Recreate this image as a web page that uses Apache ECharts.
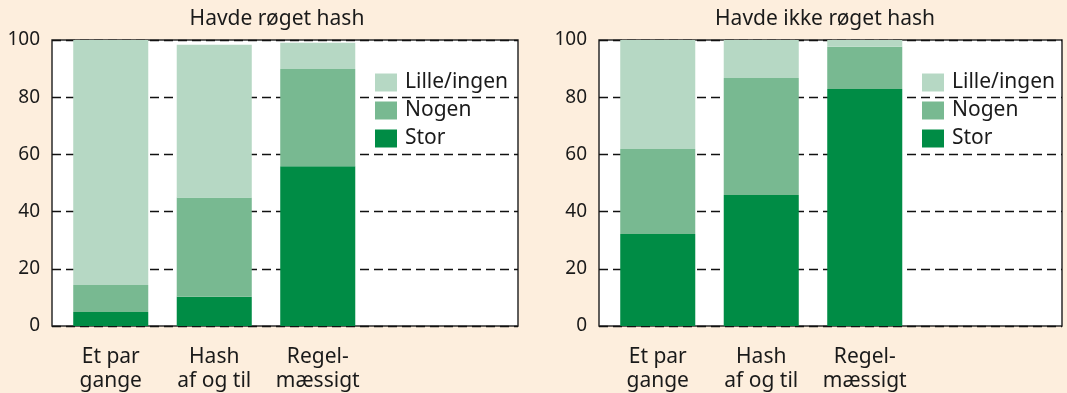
<!DOCTYPE html>
<html>
<head>
<meta charset="utf-8">
<script src="https://cdn.jsdelivr.net/npm/echarts@6/dist/echarts.min.js"></script>
<style>
  html, body { margin: 0; padding: 0; background: #fdeedd; }
  #chart { width: 1067px; height: 393px; }
</style>
</head>
<body>
<div id="chart"></div>
<script>
// Categories (how often hash was smoked) and the three response levels
const categories = ['Et par\ngange', 'Hash\naf og til', 'Regel-\nmæssigt', ''];
const levels = ['Stor', 'Nogen', 'Lille/ingen'];
const legendOrder = ['Lille/ingen', 'Nogen', 'Stor'];
const panelTitles = ['Havde røget hash', 'Havde ikke røget hash'];
const yTicks = [0, 20, 40, 60, 80, 100];

// Panel 1: Havde røget hash (percent)
const smokedStor  = [4.9, 10.2, 55.9];
const smokedNogen = [9.4, 34.7, 34.0];
const smokedLille = [85.7, 53.4, 9.1];

// Panel 2: Havde ikke røget hash (percent)
const notSmokedStor  = [32.2, 45.8, 82.9];
const notSmokedNogen = [29.7, 40.9, 14.7];
const notSmokedLille = [38.1, 13.3, 2.4];

const colors = { 'Stor': '#008c45', 'Nogen': '#78b991', 'Lille/ingen': '#b6d8c4' };
const FONT = '"Noto Sans", "Liberation Sans", sans-serif';
const TEXT = '#1a1a1a';

// Each panel: a framed plot box (with the dashed value grid) and, inside it,
// a band of four category slots that carries the stacked bars.
const panels = [
  { title: panelTitles[0], values: [smokedStor, smokedNogen, smokedLille],
    frame: { left: 52, top: 40, width: 466, height: 286 },
    bars:  { left: 59, top: 40, width: 414, height: 286 },
    titleX: 277, legendLeft: 375 },
  { title: panelTitles[1], values: [notSmokedStor, notSmokedNogen, notSmokedLille],
    frame: { left: 599, top: 40, width: 463, height: 286 },
    bars:  { left: 606, top: 40, width: 414, height: 286 },
    titleX: 825, legendLeft: 922 }
];

const yMin = yTicks[0], yMax = yTicks[yTicks.length - 1], yStep = yTicks[1] - yTicks[0];

const grids = [], xAxes = [], yAxes = [];
// frame grids: 0, 1
panels.forEach((p, i) => {
  grids.push(Object.assign({
    show: true, backgroundColor: '#ffffff', borderColor: '#2b2b2b', borderWidth: 1.5,
    containLabel: false, outerBoundsMode: 'none'
  }, p.frame));
  xAxes.push({ type: 'value', gridIndex: i, min: 0, max: 1, show: false });
  yAxes.push({
    type: 'value', gridIndex: i, min: yMin, max: yMax, interval: yStep,
    axisLine: { show: false }, axisTick: { show: false },
    axisLabel: { fontFamily: FONT, fontSize: 19, color: TEXT, margin: 12,
      verticalAlign: 'middle', padding: [0, 0, 6, 0] },
    splitLine: { show: true, lineStyle: { color: '#111', width: 1.3, type: [9, 5] } }
  });
});
// bar grids: 2, 3
panels.forEach((p, i) => {
  grids.push(Object.assign({ show: false, containLabel: false, outerBoundsMode: 'none' }, p.bars));
  xAxes.push({
    type: 'category', gridIndex: 2 + i, data: categories,
    axisLine: { show: false }, axisTick: { show: false }, splitLine: { show: false },
    axisLabel: { fontFamily: FONT, fontSize: 21, color: TEXT, lineHeight: 24, margin: 19, interval: 0 }
  });
  yAxes.push({
    type: 'value', gridIndex: 2 + i, min: yMin, max: yMax, interval: yStep,
    axisLine: { show: false }, axisTick: { show: false },
    axisLabel: { show: false }, splitLine: { show: false }
  });
});

const series = [];
panels.forEach((p, i) => {
  levels.forEach((lvl, j) => {
    series.push({
      type: 'bar', name: lvl, stack: 'panel' + i,
      xAxisIndex: 2 + i, yAxisIndex: 2 + i,
      barWidth: '72.5%',
      itemStyle: { color: colors[lvl] },
      data: p.values[j]
    });
  });
});

const option = {
  backgroundColor: '#fdeedd',
  animation: false,
  textStyle: { fontFamily: FONT, color: TEXT },
  grid: grids,
  xAxis: xAxes,
  yAxis: yAxes,
  legend: panels.map(p => ({
    orient: 'vertical', left: p.legendLeft, top: 72, padding: 0,
    itemWidth: 22, itemHeight: 18, itemGap: 7,
    icon: 'rect', data: legendOrder,
    textStyle: { fontFamily: FONT, fontSize: 21, color: TEXT, padding: [0, 0, 0, 3] },
    selectedMode: false
  })),
  graphic: panels.map(p => ({
    type: 'text', x: p.titleX, y: 19,
    style: { text: p.title, font: '21px ' + FONT, fill: TEXT, align: 'center', verticalAlign: 'middle' }
  })),
  series: series
};

const chart = echarts.init(document.getElementById('chart'), null, { renderer: 'canvas' });
chart.setOption(option);
</script>
</body>
</html>
